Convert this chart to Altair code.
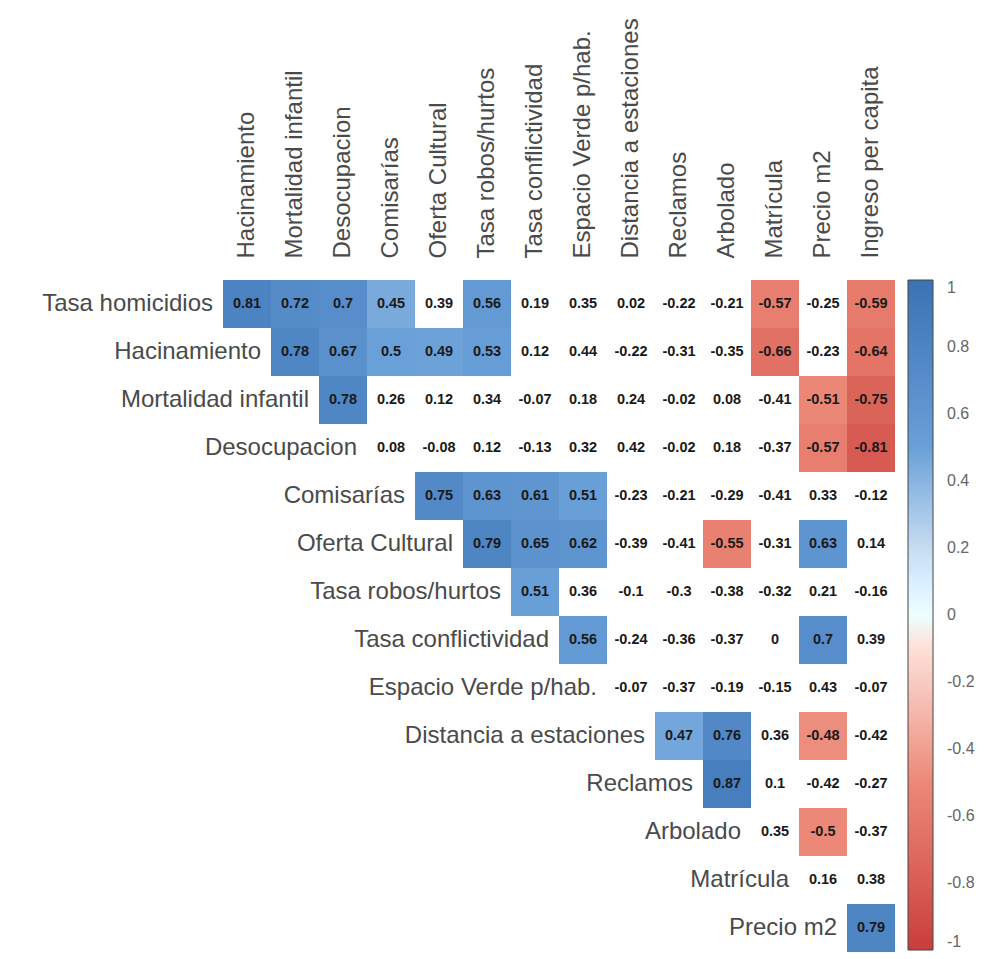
import altair as alt
import pandas as pd

rows = ["Tasa homicidios", "Hacinamiento", "Mortalidad infantil", "Desocupacion",
        "Comisarías", "Oferta Cultural", "Tasa robos/hurtos", "Tasa conflictividad",
        "Espacio Verde p/hab.", "Distancia a estaciones", "Reclamos", "Arbolado",
        "Matrícula", "Precio m2"]
cols = ["Hacinamiento", "Mortalidad infantil", "Desocupacion", "Comisarías",
        "Oferta Cultural", "Tasa robos/hurtos", "Tasa conflictividad",
        "Espacio Verde p/hab.", "Distancia a estaciones", "Reclamos", "Arbolado",
        "Matrícula", "Precio m2", "Ingreso per capita"]

# upper-triangle correlations, row i starts at column i
corr = [
    [0.81, 0.72, 0.7, 0.45, 0.39, 0.56, 0.19, 0.35, 0.02, -0.22, -0.21, -0.57, -0.25, -0.59],
    [0.78, 0.67, 0.5, 0.49, 0.53, 0.12, 0.44, -0.22, -0.31, -0.35, -0.66, -0.23, -0.64],
    [0.78, 0.26, 0.12, 0.34, -0.07, 0.18, 0.24, -0.02, 0.08, -0.41, -0.51, -0.75],
    [0.08, -0.08, 0.12, -0.13, 0.32, 0.42, -0.02, 0.18, -0.37, -0.57, -0.81],
    [0.75, 0.63, 0.61, 0.51, -0.23, -0.21, -0.29, -0.41, 0.33, -0.12],
    [0.79, 0.65, 0.62, -0.39, -0.41, -0.55, -0.31, 0.63, 0.14],
    [0.51, 0.36, -0.1, -0.3, -0.38, -0.32, 0.21, -0.16],
    [0.56, -0.24, -0.36, -0.37, 0, 0.7, 0.39],
    [-0.07, -0.37, -0.19, -0.15, 0.43, -0.07],
    [0.47, 0.76, 0.36, -0.48, -0.42],
    [0.87, 0.1, -0.42, -0.27],
    [0.35, -0.5, -0.37],
    [0.16, 0.38],
    [0.79],
]
# 1 = coloured (significant) cell
sig = [
    [1, 1, 1, 1, 0, 1, 0, 0, 0, 0, 0, 1, 0, 1],
    [1, 1, 1, 1, 1, 0, 0, 0, 0, 0, 1, 0, 1],
    [1, 0, 0, 0, 0, 0, 0, 0, 0, 0, 1, 1],
    [0, 0, 0, 0, 0, 0, 0, 0, 0, 1, 1],
    [1, 1, 1, 1, 0, 0, 0, 0, 0, 0],
    [1, 1, 1, 0, 0, 1, 0, 1, 0],
    [1, 0, 0, 0, 0, 0, 0, 0],
    [1, 0, 0, 0, 0, 1, 0],
    [0, 0, 0, 0, 0, 0],
    [1, 1, 0, 1, 0],
    [1, 0, 0, 0],
    [0, 1, 0],
    [0, 0],
    [1],
]
legend_values = [-1, -0.8, -0.6, -0.4, -0.2, 0, 0.2, 0.4, 0.6, 0.8, 1]

records = []
for i, r in enumerate(rows):
    for k, v in enumerate(corr[i]):
        records.append({"row": r, "col": cols[i + k], "v": v, "sig": sig[i][k]})
df = pd.DataFrame(records)
labels_df = pd.DataFrame({"row": rows, "col": cols})

FONT = "Liberation Sans"

x_enc = alt.X("col:N", sort=cols, title=None,
              scale=alt.Scale(domain=cols, paddingInner=0, paddingOuter=0),
              axis=alt.Axis(orient="top", labelAngle=-90, labelAlign="left",
                            labelBaseline="middle", labelPadding=22,
                            labelFont=FONT, labelFontSize=24, labelColor="#4a4a4a",
                            ticks=False, domain=False, grid=False, labelLimit=400))
y_enc = alt.Y("row:N", sort=rows, title=None,
              scale=alt.Scale(domain=rows, paddingInner=0, paddingOuter=0),
              axis=None)

color_scale = alt.Scale(domain=[-1, -0.5, -0.2, 0, 0.2, 0.5, 1],
                        range=["#c93c3c", "#ec8878", "#f7cbc2", "#ffffff",
                               "#c6dcf1", "#6aa0d8", "#3a72b4"])

cells = alt.Chart(df).transform_filter("datum.sig == 1").mark_rect().encode(
    x=x_enc, y=y_enc,
    color=alt.Color("v:Q", scale=color_scale,
                    legend=alt.Legend(orient="none", legendX=685, legendY=0,
                                      direction="vertical", title=None,
                                      gradientLength=670, gradientThickness=25,
                                      gradientStrokeColor="#444",
                                      gradientStrokeWidth=1,
                                      values=legend_values,
                                      labelExpr="toString(datum.value)",
                                      labelFont=FONT, labelFontSize=16,
                                      labelColor="#666", labelOffset=14,
                                      labelOverlap=False)),
)

texts = alt.Chart(df).transform_calculate(
    lab="toString(datum.v)"
).mark_text(font=FONT, fontSize=14.5, fontWeight="bold", color="#1a1a1a").encode(
    x=alt.X("col:N", sort=cols), y=alt.Y("row:N", sort=rows), text="lab:N"
)

row_labels = alt.Chart(labels_df).mark_text(
    font=FONT, fontSize=24, color="#4a4a4a", align="right", baseline="middle", dx=-10
).encode(
    x=alt.X("col:N", sort=cols, bandPosition=0),
    y=alt.Y("row:N", sort=rows),
    text="row:N",
)

chart = alt.layer(cells, texts, row_labels).properties(
    width=672, height=672,
    padding={"left": 215, "top": 272, "right": 80, "bottom": 7},
    autosize=alt.AutoSizeParams(type="none"),
    background="white",
).configure_view(stroke=None)

chart.save("out.html", embed_options={"renderer": "svg", "actions": False})
